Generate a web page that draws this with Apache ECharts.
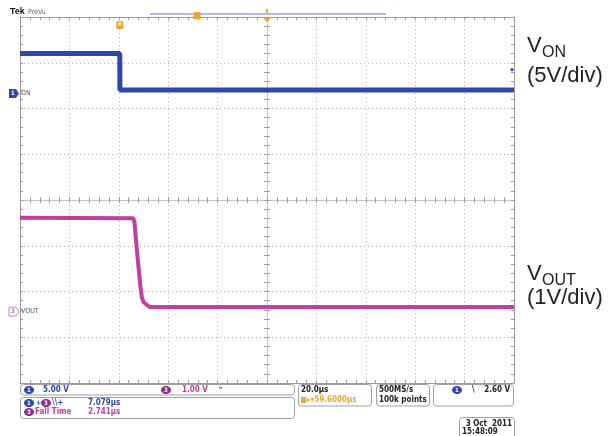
<!DOCTYPE html>
<html><head><meta charset="utf-8">
<script src="https://cdn.jsdelivr.net/npm/echarts@6/dist/echarts.min.js"></script>
<style>html,body{margin:0;padding:0;background:#fff}#c{width:609px;height:436px}</style>
</head><body><div id="c"></div>
<script>
// ---- data (time in µs relative to trigger, volts) ----
const vonTime  = [-40.4, 0.0, 0.05, 159.6];
const vonVolts = [4.37, 4.37, 0.38, 0.38];
const voutTime  = [-40.4, 5.47, 5.95, 6.56, 7.37, 8.18, 8.87, 9.6, 10.9, 12.2, 159.6];
const voutVolts = [2.05, 2.04, 1.96, 1.57, 1.09, 0.63, 0.33, 0.21, 0.15, 0.10, 0.10];
const timeRange = [-40.4, 159.6];      // 20 µs/div, 10 div
const vonRange  = [-31.64, 8.36];      // 5 V/div, 8 div
const voutRange = [-1.56, 6.44];       // 1 V/div, 8 div
const trigLevel = [2.60];
const seriesNames = ['VON', 'VOUT'];
const panelTexts = {
  ch1Scale: '5.00 V', ch3Scale: '1.00 V', delay: '7.079µs', fallLabel: 'Fall Time', fall: '2.741µs',
  timebase: '20.0µs', hpos: '59.6000µs', rate: '500MS/s', points: '100k points', trig: '2.60 V',
  date: '3 Oct  2011', time: '15:48:09'
};

const zip = (a, b) => a.map((v, i) => [v, b[i]]);
const BLUE = '#2d48a8', PURPLE = '#c03f9f', GRID = '#b4b4b4', TICK = '#9c9c9c', ORANGE = '#f2a431';

function gridAxis(extra) {
  return Object.assign({
    type: 'value', axisLabel: { show: false }, splitLine: { show: false },
    axisLine: { show: true, onZero: false, lineStyle: { color: TICK, width: 1 } },
    axisTick: { show: true, inside: true, length: 3, lineStyle: { color: TICK } },
    minorTick: { show: true, splitNumber: 5, length: 3, lineStyle: { color: TICK } }
  }, extra);
}
const xg = { min: -5, max: 5, interval: 1 };
const yg = { min: -4, max: 4, interval: 1 };
const dotted = { show: true, lineStyle: { color: GRID, type: [1, 3], width: 1 } };

const chart = echarts.init(document.getElementById('c'), null, { renderer: 'canvas' });
const option = {
  animation: false,
  backgroundColor: '#fff',
  grid: { left: 20, top: 17, width: 494, height: 366, outerBoundsMode: 'none', containLabel: false },
  xAxis: [
    gridAxis(Object.assign({ position: 'bottom', splitLine: dotted }, xg)),
    gridAxis(Object.assign({ position: 'top' }, xg)),
    gridAxis(Object.assign({ position: 'bottom', axisLine: { show: true, onZero: true, onZeroAxisIndex: 0, lineStyle: { color: '#c4c4c4' } },
      axisTick: { show: true, inside: false, length: 3, lineStyle: { color: TICK } } }, xg)),
    gridAxis(Object.assign({ position: 'top', axisLine: { show: false, onZero: true, onZeroAxisIndex: 0 },
      axisTick: { show: true, inside: false, length: 3, lineStyle: { color: TICK } } }, xg)),
    { type: 'value', show: false, min: timeRange[0], max: timeRange[1], axisLine: { onZero: false } }
  ],
  yAxis: [
    gridAxis(Object.assign({ position: 'left', splitLine: dotted }, yg)),
    gridAxis(Object.assign({ position: 'right' }, yg)),
    gridAxis(Object.assign({ position: 'left', axisLine: { show: true, onZero: true, onZeroAxisIndex: 0, lineStyle: { color: '#c4c4c4' } },
      axisTick: { show: true, inside: false, length: 3, lineStyle: { color: TICK } } }, yg)),
    gridAxis(Object.assign({ position: 'right', axisLine: { show: false, onZero: true, onZeroAxisIndex: 0 },
      axisTick: { show: true, inside: false, length: 3, lineStyle: { color: TICK } } }, yg)),
    { type: 'value', show: false, min: vonRange[0], max: vonRange[1], axisLine: { onZero: false } },
    { type: 'value', show: false, min: voutRange[0], max: voutRange[1], axisLine: { onZero: false } }
  ],
  series: [
    { name: seriesNames[0], type: 'line', xAxisIndex: 4, yAxisIndex: 4, data: zip(vonTime, vonVolts),
      showSymbol: false, symbol: 'none', lineStyle: { color: BLUE, width: 5 }, z: 5 },
    { name: seriesNames[1], type: 'line', xAxisIndex: 4, yAxisIndex: 5, data: zip(voutTime, voutVolts),
      showSymbol: false, symbol: 'none', lineStyle: { color: PURPLE, width: 4 }, z: 5 }
  ]
};
chart.setOption(option);

// ---- annotation overlay positioned through the chart's scales ----
const trigX = chart.convertToPixel({ xAxisIndex: 4 }, 0);
const centerX = chart.convertToPixel({ xAxisIndex: 0 }, 0);
const gOn = chart.convertToPixel({ yAxisIndex: 4 }, 0);
const gOut = chart.convertToPixel({ yAxisIndex: 5 }, 0);
const lvlY = chart.convertToPixel({ yAxisIndex: 4 }, trigLevel[0]);

const SMALL = "'DejaVu Sans Condensed','Liberation Sans Narrow','DejaVu Sans',sans-serif";
const BIG = "'Liberation Sans',Arial,sans-serif";
function txt(x, y, s, color, size, weight, family, align) {
  return { type: 'text', x: x, y: y, z: 100, silent: true,
    style: { text: s, fill: color, font: (weight || 'bold') + ' ' + size + 'px ' + (family || SMALL),
      align: align || 'left', textAlign: align || 'left', verticalAlign: 'middle', textVerticalAlign: 'middle' } };
}
function box(x, y, w, h) {
  return { type: 'rect', z: 90, silent: true, shape: { x: x, y: y, width: w, height: h, r: 3 },
    style: { fill: '#fff', stroke: '#a0a0a0', lineWidth: 1 } };
}
function badge(cx, cy, n, color) {
  return [
    { type: 'ellipse', z: 95, silent: true, shape: { cx: cx, cy: cy, rx: 5, ry: 4 }, style: { fill: color } },
    txt(cx, cy + 0.5, n, '#fff', 6, 'bold', SMALL, 'center')
  ];
}
const els = [];
// top
els.push(txt(10, 12, 'Tek', '#111', 9, 'bold', BIG));
els.push(txt(28, 12, 'PreVu', '#666', 7, 'normal', SMALL));
els.push({ type: 'line', z: 50, silent: true, shape: { x1: 150, y1: 14, x2: 386, y2: 14 }, style: { stroke: '#b9b6e6', lineWidth: 2 } });
els.push({ type: 'polygon', z: 51, silent: true, shape: { points: [[194, 12], [200, 12], [201, 19], [193, 19]] }, style: { fill: ORANGE } });
els.push({ type: 'rect', z: 51, silent: true, shape: { x: centerX - 1, y: 9, width: 2, height: 4 }, style: { fill: ORANGE } });
els.push({ type: 'polygon', z: 51, silent: true, shape: { points: [[centerX - 3.5, 18], [centerX + 3.5, 18], [centerX, 22]] }, style: { fill: ORANGE } });
els.push({ type: 'rect', z: 51, silent: true, shape: { x: trigX - 3.5, y: 21, width: 7, height: 8, r: 1.5 }, style: { fill: ORANGE } });
els.push({ type: 'rect', z: 52, silent: true, shape: { x: trigX - 1.5, y: 22, width: 3, height: 4 }, style: { fill: '#fbd9a0' } });
// ground markers
els.push({ type: 'polygon', z: 60, silent: true, shape: { points: [[9, gOn - 4.5], [16, gOn - 4.5], [19, gOn], [16, gOn + 4.5], [9, gOn + 4.5]] }, style: { fill: BLUE } });
els.push(txt(13, gOn, '1', '#fff', 6, 'bold', SMALL, 'center'));
els.push(txt(21, gOn, 'ON', '#555', 7, 'normal', SMALL));
els.push({ type: 'polygon', z: 60, silent: true, shape: { points: [[9, gOut - 4.5], [16, gOut - 4.5], [19, gOut], [16, gOut + 4.5], [9, gOut + 4.5]] }, style: { fill: '#fff', stroke: '#d080c0', lineWidth: 1 } });
els.push(txt(13, gOut, '3', '#c060a8', 6, 'bold', SMALL, 'center'));
els.push(txt(21, gOut, 'VOUT', '#555', 7, 'normal', SMALL));
// trigger level
els.push({ type: 'circle', z: 60, silent: true, shape: { cx: 512, cy: lvlY, r: 1.6 }, style: { fill: BLUE } });
// right-hand labels
els.push(txt(527, 46, 'V', '#222', 22, 'normal', BIG));
els.push(txt(542, 53, 'ON', '#222', 16, 'normal', BIG));
els.push(txt(527, 76, '(5V/div)', '#222', 22, 'normal', BIG));
els.push(txt(527, 274, 'V', '#222', 22, 'normal', BIG));
els.push(txt(542, 281, 'OUT', '#222', 16, 'normal', BIG));
els.push(txt(527, 298, '(1V/div)', '#222', 22, 'normal', BIG));
// bottom panels
els.push(box(20.5, 384.5, 274, 10.5));
els.push(box(20.5, 397.5, 274, 21));
els.push(box(298.5, 384.5, 73, 21.5));
els.push(box(376.5, 384.5, 53, 21.5));
els.push(box(433.5, 384.5, 80, 21.5));
els.push(box(459.5, 417.5, 55, 22));
els.push(...badge(29, 390, '1', BLUE));
els.push(txt(43, 390, panelTexts.ch1Scale, BLUE, 8));
els.push(...badge(166, 390, '3', '#8e2c8e'));
els.push(txt(182, 390, panelTexts.ch3Scale, PURPLE, 8));
els.push(txt(219, 390, 'ᵇ', PURPLE, 8));
els.push(...badge(29, 403, '1', BLUE));
els.push(txt(36, 403, '+', BLUE, 7));
els.push(...badge(46, 403, '3', '#8e2c8e'));
els.push(txt(52, 403, '\\\\+', BLUE, 8));
els.push(txt(88, 403, panelTexts.delay, BLUE, 8));
els.push(...badge(29, 412, '3', '#8e2c8e'));
els.push(txt(35, 412, panelTexts.fallLabel, PURPLE, 8));
els.push(txt(88, 412, panelTexts.fall, PURPLE, 8));
els.push(txt(301, 389.5, panelTexts.timebase, '#222', 8));
els.push({ type: 'rect', z: 100, silent: true, shape: { x: 301, y: 397, width: 5, height: 6 }, style: { fill: ORANGE } });
els.push(txt(307, 400, '▸▾' + panelTexts.hpos, ORANGE, 8));
els.push(txt(379, 389.5, panelTexts.rate, '#222', 8));
els.push(txt(379, 400, panelTexts.points, '#222', 8));
els.push(...badge(457, 390, '1', BLUE));
els.push(txt(472, 390, '\\', '#222', 8));
els.push(txt(510, 390, panelTexts.trig, '#222', 8, 'bold', SMALL, 'right'));
els.push(txt(512, 424, panelTexts.date, '#222', 8, 'bold', SMALL, 'right'));
els.push(txt(462, 432, panelTexts.time, '#222', 8));
chart.setOption({ graphic: { elements: els } });
</script>
</body></html>
